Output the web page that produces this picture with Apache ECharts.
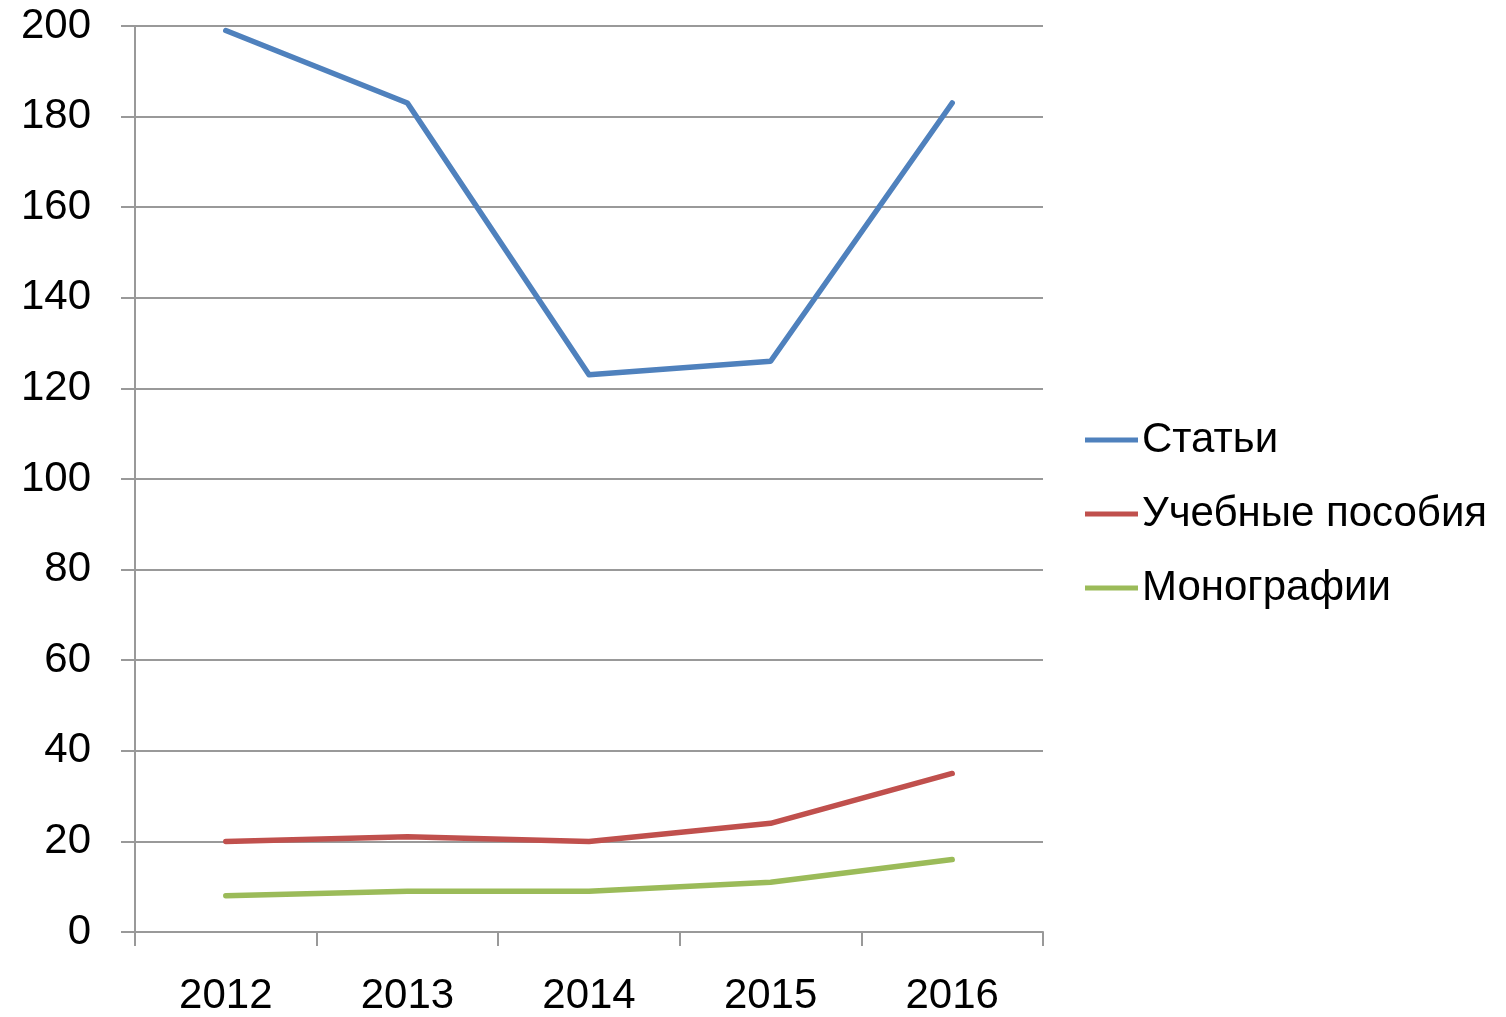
<!DOCTYPE html>
<html>
<head>
<meta charset="utf-8">
<script src="https://cdn.jsdelivr.net/npm/echarts@6/dist/echarts.min.js"></script>
<style>html,body{margin:0;padding:0;background:#fff}#c{width:1506px;height:1017px}</style>
</head>
<body>
<div id="c"></div>
<script>
const years = ['2012', '2013', '2014', '2015', '2016'];
const articles = [199, 183, 123, 126, 183];
const textbooks = [20, 21, 20, 24, 35];
const monographs = [8, 9, 9, 11, 16];
const seriesNames = ['Статьи', 'Учебные пособия', 'Монографии'];
const colors = ['#4F81BD', '#C0504D', '#9BBB59'];

const chart = echarts.init(document.getElementById('c'), null, {renderer: 'canvas'});
const font = '"Liberation Sans", Arial, sans-serif';
const gray = '#999999';
const mk = (name, data, color) => ({
  name, type: 'line', data, symbol: 'none', smooth: false,
  lineStyle: {color, width: 5.5, cap: 'round', join: 'round'},
  itemStyle: {color}
});
chart.setOption({
  animation: false,
  backgroundColor: '#fff',
  grid: {left: 135, top: 26, right: 463, bottom: 82, containLabel: false},
  legend: {
    orient: 'vertical', left: 1085, top: 419, padding: 0,
    itemWidth: 53, itemHeight: 5, itemGap: 32,
    icon: 'rect',
    textStyle: {fontFamily: font, fontSize: 42, color: '#000', padding: [0, 0, 0, -1]},
    data: seriesNames
  },
  xAxis: {
    type: 'category', data: years, boundaryGap: true,
    axisLine: {lineStyle: {color: gray, width: 2}},
    axisTick: {show: true, length: 14, lineStyle: {color: gray, width: 2}},
    axisLabel: {fontFamily: font, fontSize: 42, color: '#000', margin: 43}
  },
  yAxis: {
    type: 'value', min: 0, max: 200, interval: 20,
    axisLine: {show: true, lineStyle: {color: gray, width: 2}},
    axisTick: {show: true, length: 14, lineStyle: {color: gray, width: 2}},
    axisLabel: {fontFamily: font, fontSize: 42, color: '#000', margin: 44},
    splitLine: {lineStyle: {color: gray, width: 2}}
  },
  series: [
    mk(seriesNames[0], articles, colors[0]),
    mk(seriesNames[1], textbooks, colors[1]),
    mk(seriesNames[2], monographs, colors[2])
  ]
});
</script>
</body>
</html>
